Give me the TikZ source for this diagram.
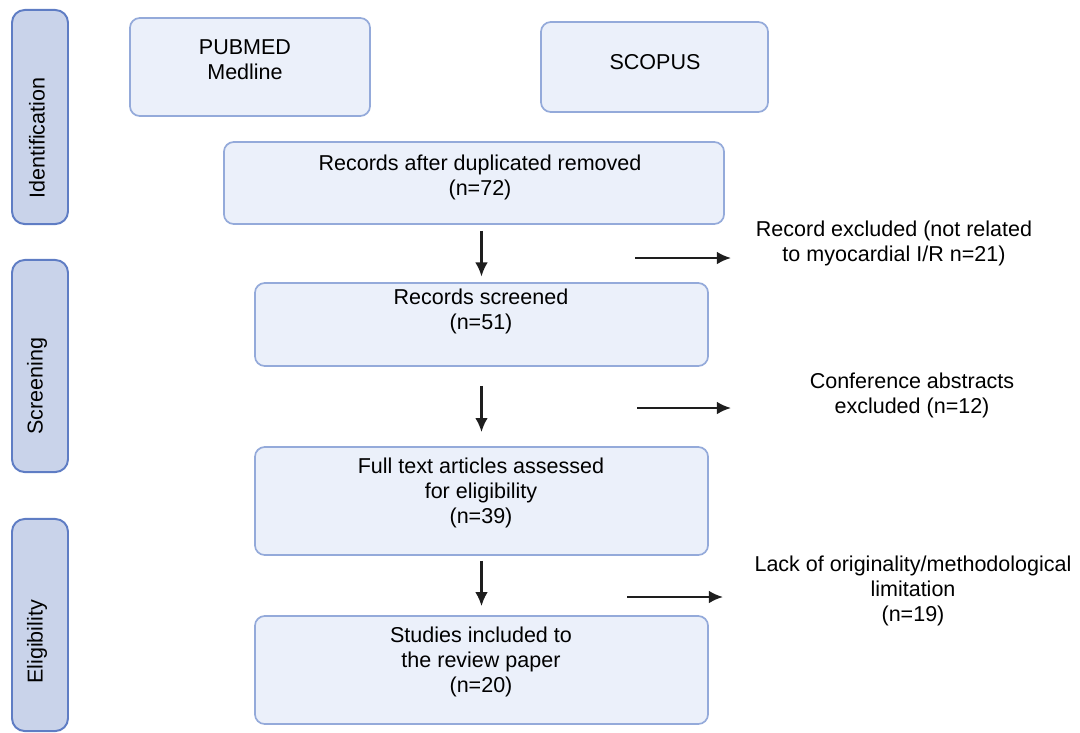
\documentclass[tikz,border=0pt]{standalone}
\usepackage{fontspec}
\setmainfont{Liberation Sans}
\usepackage{tikz}
\usetikzlibrary{positioning, arrows.meta}
\definecolor{boxfill}{HTML}{EBF0FA}
\definecolor{boxline}{HTML}{94AADA}
\definecolor{phasefill}{HTML}{C9D3EA}
\definecolor{phaseline}{HTML}{5F7DC4}
\definecolor{arrowcol}{HTML}{1E1E1E}
\tikzset{
 block/.style = {
    rectangle, draw=boxline, fill=boxfill, line width=1.2pt,
    rounded corners=7pt},
 phase/.style = {
    rectangle, draw=phaseline, fill=phasefill, line width=1.4pt,
    rounded corners=9pt, minimum width=1.4cm},
 phase label/.style = {
    rotate=90, font=\fontsize{15.3}{18}\selectfont},
 block text/.style = {
    align=center, font=\fontsize{15.3}{17.8}\selectfont},
 line/.style = {
    draw=arrowcol, line width=1.6pt, -{Latex[length=10pt, width=9pt]}},
}

\begin{document}
\begin{tikzpicture}[x=0.025cm, y=-0.025cm]
    \useasboundingbox (0,0) rectangle (1080,732);

    % Phase bars
    \node [phase, minimum height=5.35cm] (idbar)   at (40,117) {};
    \node [phase, minimum height=5.3cm]  (scrbar)  at (40,366) {};
    \node [phase, minimum height=5.3cm]  (elibar)  at (40,625) {};
    \node [phase label] (idlabel)  at (37,138) {Identification};
    \node [phase label] (scrlabel) at (37,386) {Screening};
    \node [phase label] (elilabel) at (37,642) {Eligibility};

    % Place nodes
    \node [block, minimum width=6cm, minimum height=2.45cm]         (pubmed) at (250,67)     {};
    \node [block, minimum width=5.675cm, minimum height=2.25cm]     (scopus) at (654.5,67)   {};
    \node [block, minimum width=12.5cm, minimum height=2.05cm]      (dup)    at (474,183)    {};
    \node [block, minimum width=11.325cm, minimum height=2.075cm]   (screen) at (481.5,324.5) {};
    \node [block, minimum width=11.325cm, minimum height=2.7cm]     (full)   at (481.5,501)  {};
    \node [block, minimum width=11.325cm, minimum height=2.7cm]     (incl)   at (481.5,670)  {};

    \node [block text] (pubmedtxt) at (245,60)  {PUBMED\\Medline};
    \node [block text] (scopustxt) at (655,62)  {SCOPUS};
    \node [block text] (duptxt)    at (480,177) {Records after duplicated removed\\(n=72)};
    \node [block text] (screentxt) at (481,311) {Records screened\\(n=51)};
    \node [block text] (fulltxt)   at (481,493) {Full text articles assessed\\for eligibility\\(n=39)};
    \node [block text] (incltxt)   at (481,662) {Studies included to\\the review paper\\(n=20)};

    % Excluded records
    \node [block text] (excl1) at (894,243) {Record excluded (not related\\to myocardial I/R n=21)};
    \node [block text] (excl2) at (912,395) {Conference abstracts\\excluded (n=12)};
    \node [block text] (excl3) at (913,591) {Lack of originality/methodological\\limitation\\(n=19)};

    \path [line, shorten <=4.3pt, shorten >=4pt] (screen.north |- dup.south) -- (screen.north);
    \path [line, shorten <=13.5pt, shorten >=10pt] (screen.south) -- (full.north);
    \path [line, shorten <=3.6pt, shorten >=6.4pt] (full.south) -- (incl.north);

    \coordinate (s1) at (635,258); \coordinate (e1) at (731,258);
    \coordinate (s2) at (637,408); \coordinate (e2) at (731,408);
    \coordinate (s3) at (627,597); \coordinate (e3) at (723,597);
    \path [line] (s1) -- (e1);
    \path [line] (s2) -- (e2);
    \path [line] (s3) -- (e3);

\end{tikzpicture}
\end{document}
